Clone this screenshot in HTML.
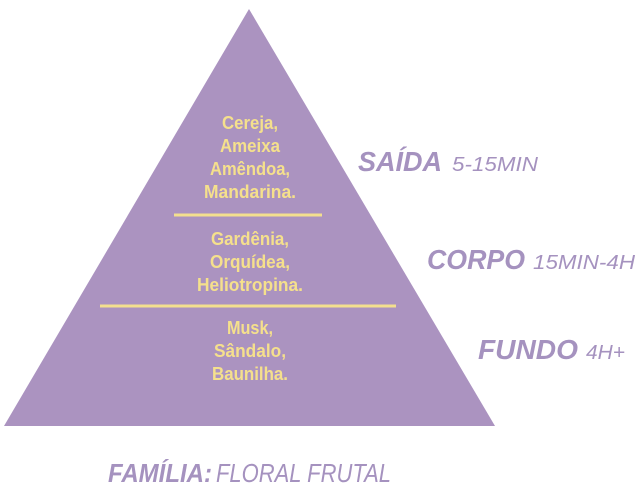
<!DOCTYPE html>
<html><head><meta charset="utf-8"><style>
html,body{margin:0;padding:0;background:#fff;width:640px;height:492px;overflow:hidden}
svg{display:block}
</style></head><body>
<svg width="640" height="492" viewBox="0 0 640 492" xmlns="http://www.w3.org/2000/svg">
<polygon points="249,9 4,426 495,426" fill="#ab93c0"/>
<line x1="174" y1="215" x2="322" y2="215" stroke="#f3df8e" stroke-width="3"/>
<line x1="100" y1="306" x2="396" y2="306" stroke="#f3df8e" stroke-width="3"/>
<g font-family="'Liberation Sans',sans-serif" font-weight="bold" font-size="18" fill="#f5e08c" text-anchor="middle">
<text x="250" y="129" textLength="56" lengthAdjust="spacingAndGlyphs">Cereja,</text>
<text x="250" y="152" textLength="60" lengthAdjust="spacingAndGlyphs">Ameixa</text>
<text x="250" y="175" textLength="80" lengthAdjust="spacingAndGlyphs">Amêndoa,</text>
<text x="250" y="198" textLength="92" lengthAdjust="spacingAndGlyphs">Mandarina.</text>
<text x="250" y="245" textLength="78" lengthAdjust="spacingAndGlyphs">Gardênia,</text>
<text x="250" y="268" textLength="80" lengthAdjust="spacingAndGlyphs">Orquídea,</text>
<text x="250" y="291" textLength="106" lengthAdjust="spacingAndGlyphs">Heliotropina.</text>
<text x="250" y="334" textLength="46" lengthAdjust="spacingAndGlyphs">Musk,</text>
<text x="250" y="357" textLength="72" lengthAdjust="spacingAndGlyphs">Sândalo,</text>
<text x="250" y="380" textLength="76" lengthAdjust="spacingAndGlyphs">Baunilha.</text>
</g>
<g font-family="'Liberation Sans',sans-serif" font-style="italic" fill="#a592bf">
<text x="358" y="171" font-size="28" font-weight="bold" textLength="84" lengthAdjust="spacingAndGlyphs">SAÍDA</text>
<text x="452" y="171" font-size="20" textLength="86" lengthAdjust="spacingAndGlyphs">5-15MIN</text>
<text x="427" y="269" font-size="28" font-weight="bold" textLength="98" lengthAdjust="spacingAndGlyphs">CORPO</text>
<text x="533" y="269" font-size="20" textLength="102" lengthAdjust="spacingAndGlyphs">15MIN-4H</text>
<text x="478" y="359" font-size="28" font-weight="bold" textLength="100" lengthAdjust="spacingAndGlyphs">FUNDO</text>
<text x="586" y="359" font-size="20" textLength="39" lengthAdjust="spacingAndGlyphs">4H+</text>
<text x="108" y="482" font-size="26" font-weight="bold" textLength="104" lengthAdjust="spacingAndGlyphs">FAMÍLIA:</text>
<text x="216" y="482" font-size="26" textLength="175" lengthAdjust="spacingAndGlyphs">FLORAL FRUTAL</text>
</g>
</svg>
</body></html>
